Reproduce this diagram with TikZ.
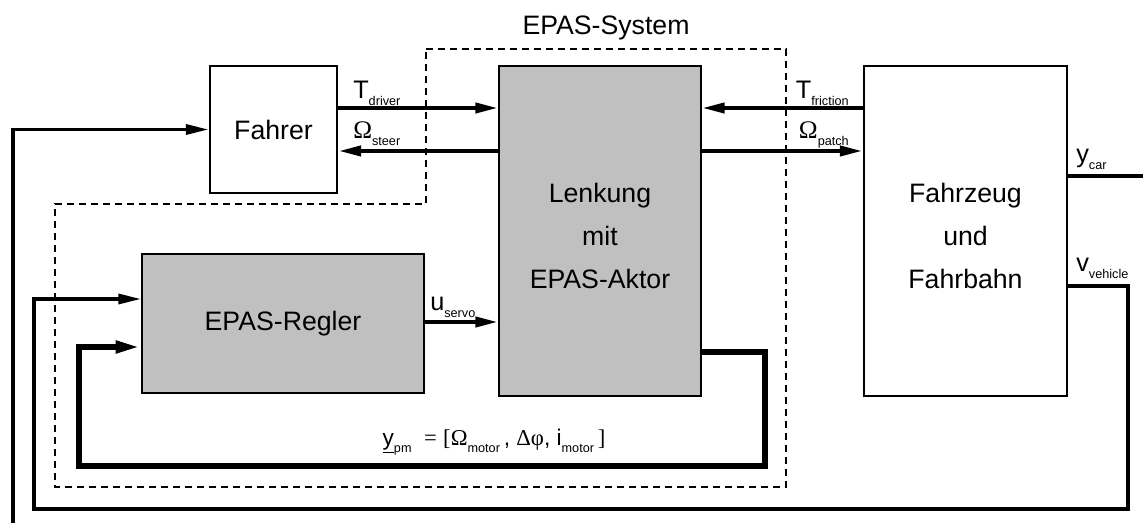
\documentclass[tikz,border=0pt]{standalone}
\usepackage{fontspec}
\setmainfont{Liberation Sans}
\newfontfamily\grk{Liberation Serif}
\usepackage{xcolor}
\usetikzlibrary{arrows.meta}
\definecolor{blockgray}{RGB}{192,192,192}
\newcommand{\lsub}[1]{\raisebox{-5pt}{\fontsize{9.5}{10}\selectfont #1}}

\begin{document}
\begin{tikzpicture}[x=0.75pt,y=-0.75pt,
  blk/.style={draw,line width=2.2pt,fill=white,align=center,inner sep=0pt,
    font=\fontsize{20}{32}\selectfont},
  gblk/.style={blk,fill=blockgray,line width=1.5pt},
  sig/.style={line width=3pt,-{Triangle[length=17pt,width=7.5pt]}},
  lab/.style={inner sep=0pt,font=\fontsize{19}{20}\selectfont}]
  \useasboundingbox (0,0) rectangle (1143,523);

  % blocks
  \node[blk,minimum width=95.25pt,minimum height=95.25pt] (fahrer) at (273.5,129.5) {Fahrer};
  \node[gblk,minimum width=151.5pt,minimum height=247.5pt] (lenkung) at (600,231)
    {\rule{0pt}{22pt}Lenkung\\mit\\EPAS-Aktor};
  \node[blk,minimum width=152.25pt,minimum height=247.5pt] (fahrzeug) at (965.5,231)
    {\rule{0pt}{22pt}Fahrzeug\\und\\Fahrbahn};
  \node[gblk,minimum width=211.5pt,minimum height=104.25pt] (regler) at (283,323.5) {EPAS-Regler};

  % EPAS system boundary
  \draw[line width=1.5pt,dash pattern=on 5.5pt off 3.5pt]
    (426,49) -- (786,49) -- (786,487) -- (55,487) -- (55,204) -- (426,204) -- cycle;
  \node[lab,anchor=base,font=\fontsize{20}{22}\selectfont] (sysname) at (606,35) {EPAS-System};

  % signals between the blocks
  \draw[sig] (fahrer.east |- 0,108) -- (lenkung.west |- 0,108);
  \draw[sig] (lenkung.west |- 0,151) -- (fahrer.east |- 0,151);
  \draw[sig] (fahrzeug.west |- 0,108) -- (lenkung.east |- 0,108);
  \draw[sig] (lenkung.east |- 0,151) -- (fahrzeug.west |- 0,151);
  \draw[sig] (regler.east |- 0,322) -- (lenkung.west |- 0,322);

  \node[lab,anchor=base west] (tdriver) at (353,99) {T\lsub{driver}};
  \node[lab,anchor=base west] (osteer) at (353,139) {{\grk Ω}\lsub{steer}};
  \node[lab,anchor=base east] (tfriction) at (849,99) {T\lsub{friction}};
  \node[lab,anchor=base east] (opatch) at (849,139) {{\grk Ω}\lsub{patch}};
  \node[lab,anchor=base west] (uservo) at (430,311) {u\lsub{servo}};

  % outputs of the vehicle
  \coordinate (ycarend) at (1150,176);
  \draw[line width=3pt] (fahrzeug.east |- ycarend) -- (ycarend);
  \node[lab,anchor=base west] (ycar) at (1076,163) {y\lsub{car}};
  \draw[line width=2.5pt,-{Triangle[length=17pt,width=7.5pt]}]
    (fahrzeug.east |- 0,286) -| (1128,509) -| (34,299) -- (regler.west |- 0,299);
  \node[lab,anchor=base west] (vvehicle) at (1076,272) {v\lsub{vehicle}};

  % measured motor signals
  \draw[line width=4.5pt,-{Triangle[length=19pt,width=8.5pt]}]
    (lenkung.east |- 0,352) -| (765,466) -| (79,347) -- (regler.west |- 0,347);
  \node[inner sep=0pt,anchor=base,font=\fontsize{17}{18}\selectfont] (ypm) at (494,446)
    {\underline{y}\lsub{pm}\ \ {\grk =} {\grk [Ω}\lsub{motor}\,, {\grk Δφ}, i\lsub{motor}\,{\grk ]}};

  % driver input
  \coordinate (drvin) at (13,530);
  \draw[line width=2.5pt,-{Triangle[length=17pt,width=7.5pt]}]
    (drvin) |- (fahrer.west);
\end{tikzpicture}
\end{document}
